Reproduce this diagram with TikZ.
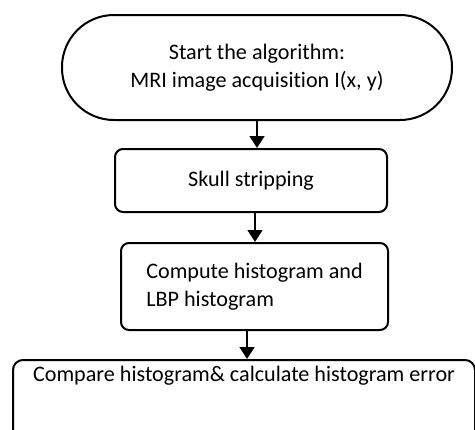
\documentclass[tikz,border=0pt]{standalone}
\usepackage{fontspec}
\setmainfont{Carlito}[Ligatures=NoCommon]
\usetikzlibrary{arrows.meta}
\tikzset{
  flowbox/.style={draw,line width=1.5pt,rounded corners=6pt,inner sep=0pt},
  flowarr/.style={line width=2pt,-{Triangle[width=11pt,length=9pt]}}
}
\begin{document}
\begin{tikzpicture}[x=0.75pt,y=-0.75pt,font=\fontsize{16.6}{21}\selectfont]
\clip (0,0) rectangle (475,429);
\node[flowbox,rounded corners=39pt,minimum width=292.5pt,minimum height=78.75pt,align=center]
  (start) at (257,67.5) {Start the algorithm:\\MRI image acquisition I(x, y)};
\node[flowbox,minimum width=204pt,minimum height=47.25pt] (skull) at (251,180.5) {Skull stripping};
\node[flowbox,minimum width=200.25pt,minimum height=65.25pt,align=left]
  (hist) at (254.5,286.5) {Compute histogram and\\LBP histogram};
\node[flowbox,rounded corners=7.5pt,anchor=north west,minimum width=346.5pt,
  text height=15.75pt,text depth=70pt] (cmp) at (12,359) {Compare histogram\& calculate histogram error};
\draw[flowarr] (start.south) -- (start.south |- skull.north);
\draw[flowarr] ([xshift=3pt]skull.south) -- ([xshift=3pt]skull.south |- hist.north);
\draw[flowarr] ([xshift=-5.6pt]hist.south) -- ([xshift=-5.6pt]hist.south |- cmp.north);
\end{tikzpicture}
\end{document}
